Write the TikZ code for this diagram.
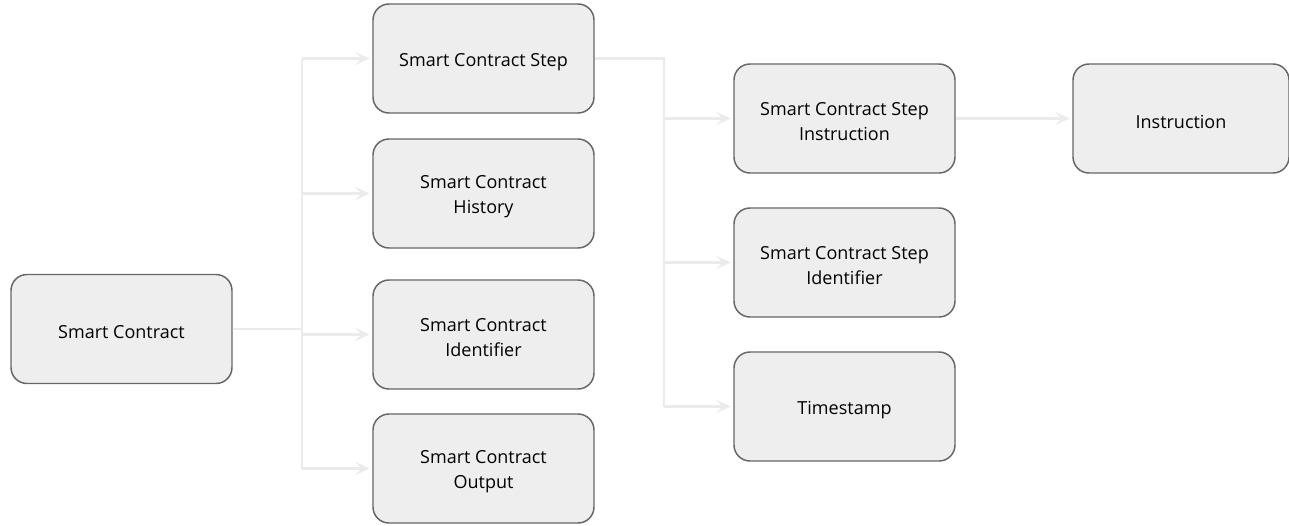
\documentclass[tikz,border=0pt]{standalone}
\usepackage{fontspec}
\setmainfont{Open Sans}
\usetikzlibrary{arrows.meta}
\definecolor{boxfill}{HTML}{EEEEEE}
\definecolor{boxline}{HTML}{666666}
\definecolor{linkline}{HTML}{EBEBEB}
\begin{document}
\begin{tikzpicture}[x=0.75pt,y=-0.75pt,
  entity/.style={draw=boxline,fill=boxfill,line width=1.1pt,rounded corners=12pt,
    minimum width=165.75pt,minimum height=81.75pt},
  caption/.style={label={[align=center,inner sep=0pt,yshift=-2.5pt,
    font=\fontsize{13.5pt}{18.75pt}\selectfont]center:{#1}}},
  link/.style={draw=linkline,line width=2.2pt},
  arr/.style={link,-{Stealth[length=11pt,width=10pt,inset=5pt]}}]
\useasboundingbox (0,0) rectangle (1289,525);
% root entity
\node[entity,caption={Smart Contract}] (sc) at (121.5,329) {};
% second level
\node[entity,caption={Smart Contract Step}] (step) at (483.5,58.5) {};
\node[entity,caption={Smart Contract\\History}] (hist) at (483.5,193.5) {};
\node[entity,caption={Smart Contract\\Identifier}] (ident) at (483.5,334.5) {};
\node[entity,caption={Smart Contract\\Output}] (out) at (483.5,468.5) {};
% third level
\node[entity,caption={Smart Contract Step\\Instruction}] (sinst) at (844.5,118.5) {};
\node[entity,caption={Smart Contract Step\\Identifier}] (sid) at (844.5,262.5) {};
\node[entity,caption={Timestamp}] (ts) at (844.5,406.5) {};
% fourth level
\node[entity,minimum width=162pt,caption={Instruction}] (inst) at (1181,118.5) {};
% branch points
\coordinate (b1) at (302,0);
\coordinate (b2) at (664,0);
% tree from Smart Contract
\draw[link] (sc.east) -- (sc.east -| b1);
\draw[link] (step.west -| b1) -- (out.west -| b1);
\foreach \t in {step,hist,ident,out}
  \draw[arr] (\t.west -| b1) -- ([xshift=-2pt]\t.west);
% tree from Smart Contract Step
\draw[link] (step.east) -- (step.east -| b2) -- (ts.west -| b2);
\foreach \t in {sinst,sid,ts}
  \draw[arr] (\t.west -| b2) -- ([xshift=-2pt]\t.west);
% step instruction to instruction
\draw[arr] (sinst.east) -- ([xshift=-2pt]inst.west);
\end{tikzpicture}
\end{document}
